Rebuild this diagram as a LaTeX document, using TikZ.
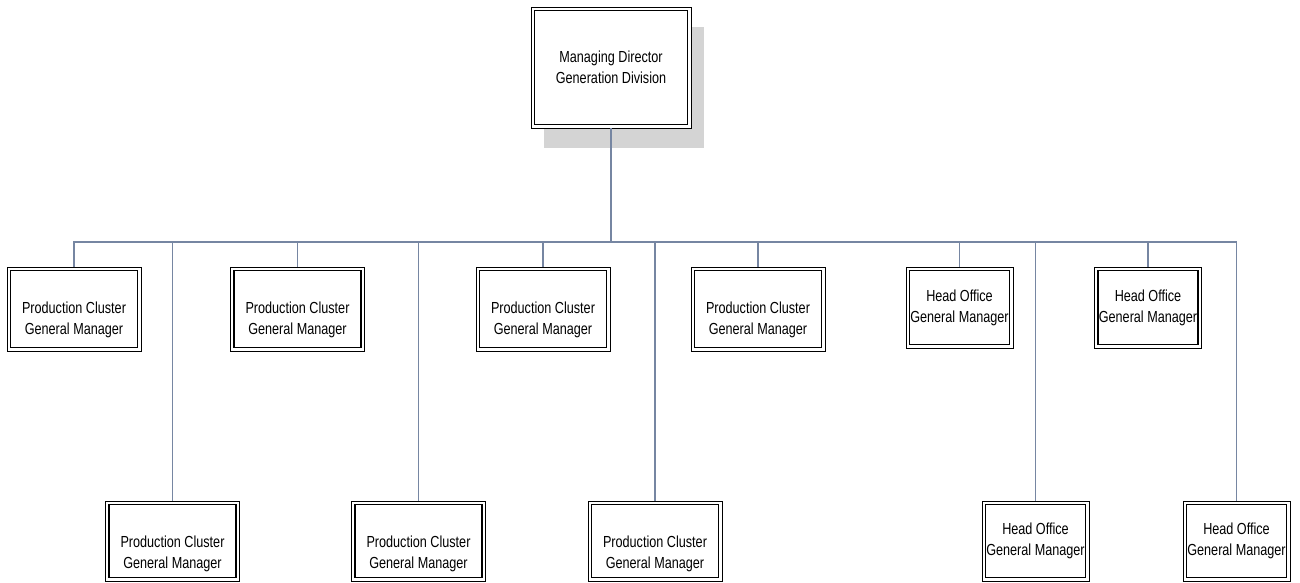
\documentclass[tikz,border=0pt]{standalone}
\usepackage{fontspec}
\setmainfont{Liberation Sans}[FakeStretch=0.79]
\usetikzlibrary{shadows}
\definecolor{linkblue}{RGB}{118,134,162}
\begin{document}
\begin{tikzpicture}[x=1pt,y=-1pt,
  conn/.style={draw=linkblue, line width=1.2pt},
  orgbox/.style={draw=black, line width=0.9pt, fill=white, inner sep=0pt,
    path picture={\draw[black, line width=1.7pt]
      ([shift={(3.5pt,-3.5pt)}]path picture bounding box.north west) rectangle
      ([shift={(-3.5pt,3.5pt)}]path picture bounding box.south east);}},
  pcbox/.style={orgbox, minimum width=134pt},
  hobox/.style={orgbox, minimum width=107pt},
  lbl/.style={inner sep=0pt, align=center, font=\fontsize{16pt}{21pt}\selectfont},
]
\useasboundingbox (0,0) rectangle (1300,582);

% top of the chart
\node[orgbox, minimum width=160pt, minimum height=121pt,
      drop shadow={shadow xshift=13pt, shadow yshift=-20pt, fill=black!17, opacity=1}]
  (md) at (611,67.5) {};
\node[lbl] (mdt) at (md.center) {Managing Director\\Generation Division};

% upper row
\node[pcbox, minimum height=84pt] (p1) at (74,309) {};
\node[pcbox, minimum height=84pt] (p2) at (297.5,309) {};
\node[pcbox, minimum height=84pt] (p3) at (543,309) {};
\node[pcbox, minimum height=84pt] (p4) at (758,309) {};
\node[hobox, minimum height=81pt] (h1) at (959.5,307.5) {};
\node[hobox, minimum height=81pt] (h2) at (1148,307.5) {};

% lower row
\node[pcbox, minimum height=80pt] (b1) at (172.5,541) {};
\node[pcbox, minimum height=80pt] (b2) at (418.5,541) {};
\node[pcbox, minimum height=80pt] (b3) at (655,541) {};
\node[hobox, minimum height=80pt] (b4) at (1035.5,541) {};
\node[hobox, minimum height=80pt] (b5) at (1236.5,541) {};

% box texts
\foreach \n in {p1,p2,p3,p4,b1,b2,b3}
  \node[lbl, anchor=north] (\n t) at ([yshift=-35pt]\n.north) {Production Cluster\\General Manager};
\foreach \n in {h1,h2,b4,b5}
  \node[lbl] (\n t) at (\n.center) {Head Office\\General Manager};

% connectors
\coordinate (bus) at (611,242);
\draw[conn] (md.south) -- (bus);
\draw[conn] (p1.north) |- (bus);
\draw[conn] (b5.north) |- (bus);
\foreach \n in {p2,p3,p4,h1,h2,b1,b2,b3,b4}
  \draw[conn] (\n.north) -- (\n.north |- bus);
\end{tikzpicture}
\end{document}
